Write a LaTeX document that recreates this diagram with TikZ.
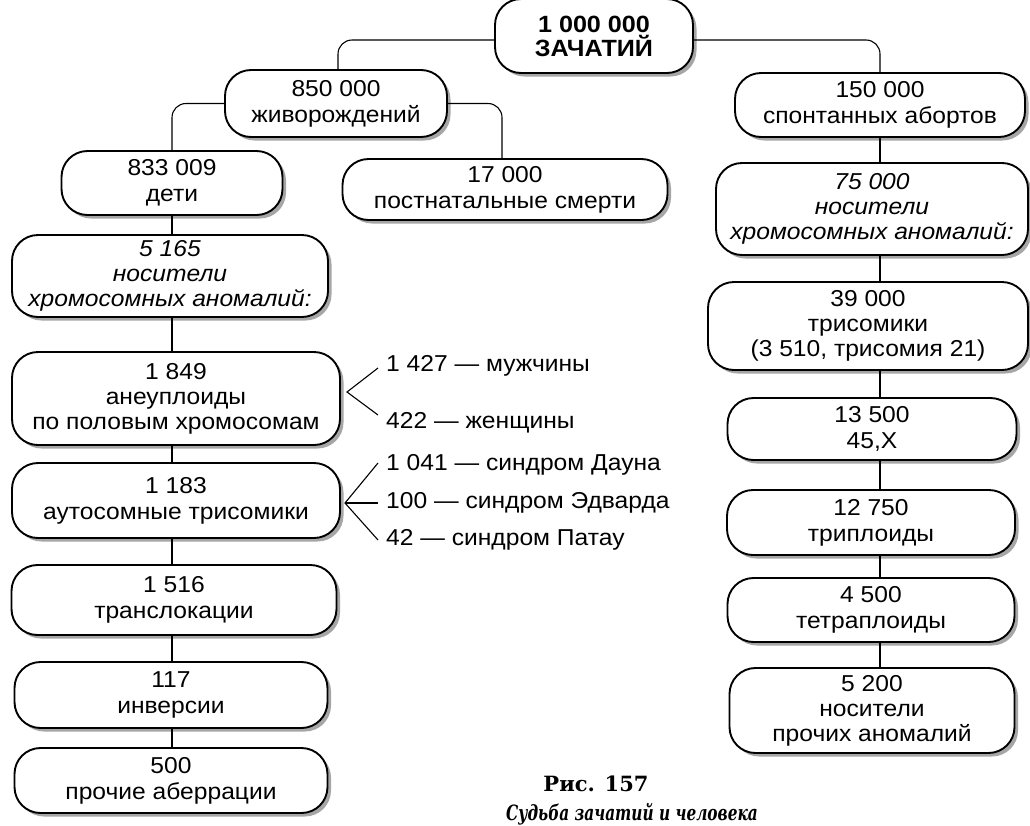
\documentclass[tikz,border=0pt]{standalone}
\usepackage{fontspec}
\setmainfont[FakeStretch=1.07]{Liberation Sans}
\newfontfamily\capfont{DejaVu Serif}
\usetikzlibrary{shadows,calc}
\begin{document}
\begin{tikzpicture}[x=1pt,y=-1pt,
  box/.style={draw, line width=1.9pt, rounded corners=26pt, fill=white, align=center,
    inner sep=0pt, font=\fontsize{23}{26}\selectfont,
    general shadow={fill=black!35, shadow xshift=3.5pt, shadow yshift=-3.5pt}},
  link/.style={line width=1.1pt, rounded corners=14pt},
  lbl/.style={anchor=west, inner sep=0pt, font=\fontsize{23}{26}\selectfont},
  branch/.style={line width=1.1pt}]
\useasboundingbox (0,0) rectangle (1030,825);
\clip (0,0) rectangle (1030,825);
\fill[white] (0,0) rectangle (1030,825);

% top
\node[box, minimum width=198pt, minimum height=74pt, font=\fontsize{23.5}{24}\selectfont\bfseries] (top) at (594,36) {1 000 000\\ЗАЧАТИЙ};
\node[box, minimum width=222pt, minimum height=67pt] (n850) at (336,103.5) {850 000\\живорождений};
\node[box, minimum width=290pt, minimum height=64pt] (n150) at (880,105) {150 000\\спонтанных абортов};
\node[box, minimum width=221pt, minimum height=64pt] (n833) at (172,183) {833 009\\дети};
\node[box, minimum width=325pt, minimum height=61pt] (n17) at (505,189.5) {17 000\\постнатальные смерти};

% left column
\node[box, minimum width=316pt, minimum height=82pt, font=\fontsize{23}{25}\selectfont\itshape] (n5165) at (170,276) {5 165\\носители\\хромосомных аномалий:};
\node[box, minimum width=328pt, minimum height=93pt, font=\fontsize{23}{25}\selectfont] (n1849) at (176,398.5) {1 849\\анеуплоиды\\по половым хромосомам};
\node[box, minimum width=328pt, minimum height=75pt] (n1183) at (176,500.5) {1 183\\аутосомные трисомики};
\node[box, minimum width=325pt, minimum height=70pt] (n1516) at (174,600) {1 516\\транслокации};
\node[box, minimum width=313pt, minimum height=66pt] (n117) at (171,695) {117\\инверсии};
\node[box, minimum width=313pt, minimum height=65pt] (n500) at (171,780.5) {500\\прочие аберрации};

% right column
\node[box, minimum width=312pt, minimum height=92pt, font=\fontsize{23}{25}\selectfont\itshape] (n75) at (872,209) {75 000\\носители\\хромосомных аномалий:};
\node[box, minimum width=320pt, minimum height=88pt, font=\fontsize{23}{25}\selectfont] (n39) at (868,326) {39 000\\трисомики\\(3 510, трисомия 21)};
\node[box, minimum width=289pt, minimum height=62pt] (n135) at (872,429) {13 500\\45,X};
\node[box, minimum width=288pt, minimum height=65pt] (n1275) at (871,522.5) {12 750\\триплоиды};
\node[box, minimum width=287pt, minimum height=64pt] (n45) at (871,610) {4 500\\тетраплоиды};
\node[box, minimum width=285pt, minimum height=85pt, font=\fontsize{23}{25}\selectfont] (n52) at (872,710.5) {5 200\\носители\\прочих аномалий};

% connector columns
\coordinate (cL) at (172,0);
\coordinate (cR) at (880,0);
\coordinate (cM) at (502,0);
\coordinate (cT) at (338,0);

% tree connectors
\draw[link] ([yshift=-4pt]top.west) -| (n850.north -| cT);
\draw[link] ([yshift=-4pt]top.east) -| (n150.north -| cR);
\draw[link] (n850.west) -| (n833.north -| cL);
\draw[link] (n850.east) -| (n17.north -| cM);

% vertical links
\foreach \a/\b in {n833/n5165, n5165/n1849, n1849/n1183, n1183/n1516, n1516/n117, n117/n500}
  \draw[link] (\a.south -| cL) -- (\b.north -| cL);
\foreach \a/\b in {n150/n75, n75/n39, n39/n135, n135/n1275, n1275/n45, n45/n52}
  \draw[link] (\a.south -| cR) -- (\b.north -| cR);

% side labels
\coordinate (apA) at (347,392);
\coordinate (a1) at (378,368);
\coordinate (a2) at (378,415);
\coordinate (apB) at (345,503);
\coordinate (b1) at (378,463);
\coordinate (b2) at (378,503);
\coordinate (b3) at (378,540);
\draw[branch] (a1) -- (apA) -- (a2);
\draw[branch] (b1) -- (apB) -- (b3);
\draw[branch] (apB) -- (b2);
\node[lbl] (m) at (386,366) {1 427 — мужчины};
\node[lbl] (w) at (386,423) {422 — женщины};
\node[lbl] (d) at (386,465) {1 041 — синдром Дауна};
\node[lbl] (e) at (386,503) {100 — синдром Эдварда};
\node[lbl] (p) at (386,540) {42 — синдром Патау};

% caption
\node[font=\capfont\fontsize{21}{24}\selectfont\bfseries] (cap1) at (596,784) {Рис. 157};
\node[anchor=base, inner sep=0pt, font=\capfont\fontsize{21}{24}\selectfont\bfseries\itshape] (cap2) at (632,820) {\scalebox{0.73}[1]{Судьба зачатий и человека}};
\end{tikzpicture}
\end{document}
